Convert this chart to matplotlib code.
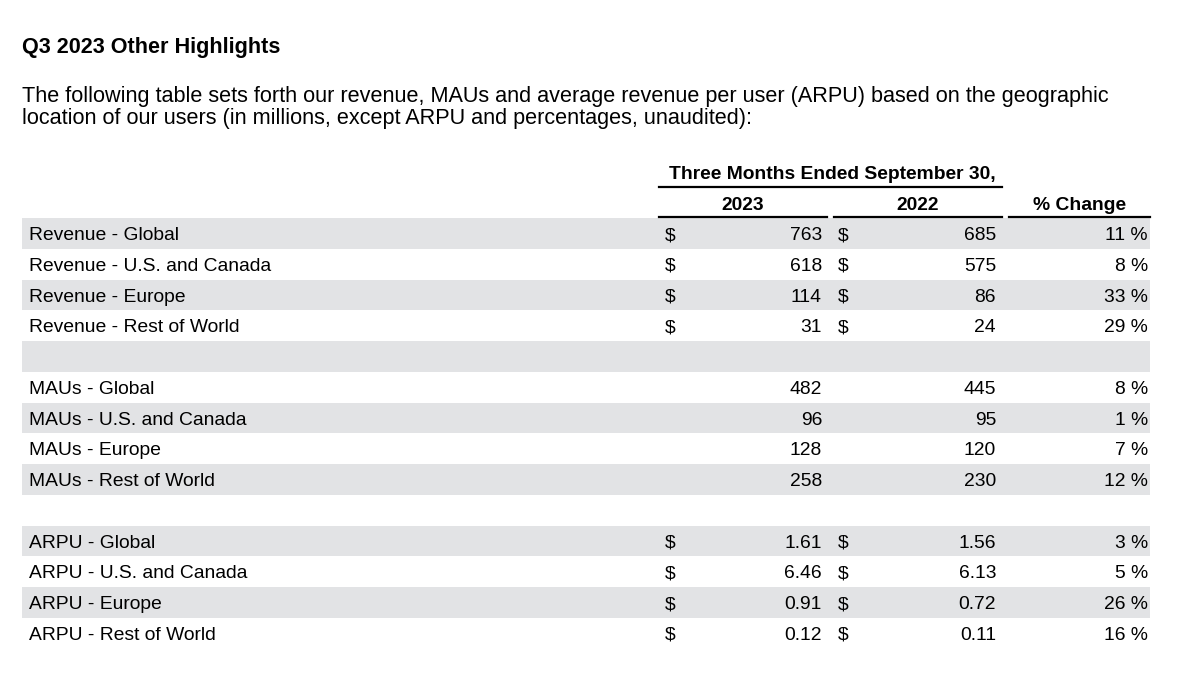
import matplotlib
matplotlib.use("Agg")
import matplotlib.pyplot as plt

regions = ["Global", "U.S. and Canada", "Europe", "Rest of World"]
revenue_2023 = [763, 618, 114, 31]
revenue_2022 = [685, 575, 86, 24]
revenue_chg = [11, 8, 33, 29]
maus_2023 = [482, 96, 128, 258]
maus_2022 = [445, 95, 120, 230]
maus_chg = [8, 1, 7, 12]
arpu_2023 = [1.61, 6.46, 0.91, 0.12]
arpu_2022 = [1.56, 6.13, 0.72, 0.11]
arpu_chg = [3, 5, 26, 16]

title = "Q3 2023 Other Highlights"
intro_lines = ["The following table sets forth our revenue, MAUs and average revenue per user (ARPU) based on the geographic",
               "location of our users (in millions, except ARPU and percentages, unaudited):"]
period_header = "Three Months Ended September 30,"
col_headers = ["2023", "2022", "% Change"]

# build the row list: (label, v2023, v2022, change, dollar sign, decimals)
rows = []
for r, a, b, c in zip(regions, revenue_2023, revenue_2022, revenue_chg):
    rows.append(("Revenue - " + r, a, b, c, True, 0))
rows.append(None)
for r, a, b, c in zip(regions, maus_2023, maus_2022, maus_chg):
    rows.append(("MAUs - " + r, a, b, c, False, 0))
rows.append(None)
for r, a, b, c in zip(regions, arpu_2023, arpu_2022, arpu_chg):
    rows.append(("ARPU - " + r, a, b, c, True, 2))

plt.rcParams['font.family'] = ['Liberation Sans', 'DejaVu Sans']
fig = plt.figure(figsize=(12, 6.91), dpi=100)
ax = fig.add_axes([0, 0, 1, 1])
ax.set_xlim(0, 1200)
ax.set_ylim(691, 0)
ax.axis("off")

fs = 13.9
shade = "#e2e3e5"
top0, pitch = 218, 30.75
x_left, x_right = 22, 1150

ax.text(x_left, 47, title, fontsize=15.55, fontweight="bold", va="center", ha="left")
for k, line in enumerate(intro_lines):
    ax.text(x_left, 96 + k * 22, line, fontsize=15.6, va="center", ha="left")

# header block
ax.text(832, 174, period_header, fontsize=fs, fontweight="bold", ha="center", va="center")
ax.plot([659, 1002], [186.5, 186.5], color="black", lw=1.6)
ax.text(743, 205, col_headers[0], fontsize=fs, fontweight="bold", ha="center", va="center")
ax.text(918, 205, col_headers[1], fontsize=fs, fontweight="bold", ha="center", va="center")
ax.text(1080, 205, col_headers[2], fontsize=fs, fontweight="bold", ha="center", va="center")
for x0, x1 in [(659, 827), (834, 1002), (1009, 1150)]:
    ax.plot([x0, x1], [217, 217], color="black", lw=1.6)

# row shading on alternate rows
for i in range(len(rows)):
    if i % 2 == 0:
        ax.barh(top0 + i * pitch, x_right - x_left, left=x_left, height=pitch,
                align="edge", color=shade, zorder=0)

for i, row in enumerate(rows):
    if row is None:
        continue
    label, a, b, c, dollar, dec = row
    y = top0 + i * pitch + pitch / 2 + 2.2
    ax.text(29, y, label, fontsize=fs, ha="left", va="center")
    if dollar:
        ax.text(665, y, "$", fontsize=fs, ha="left", va="center")
        ax.text(838, y, "$", fontsize=fs, ha="left", va="center")
    ax.text(822, y, f"{a:.{dec}f}", fontsize=fs, ha="right", va="center")
    ax.text(996, y, f"{b:.{dec}f}", fontsize=fs, ha="right", va="center")
    ax.text(1148, y, f"{c} %", fontsize=fs, ha="right", va="center")

fig.savefig("out.png", dpi=100, facecolor="white")
